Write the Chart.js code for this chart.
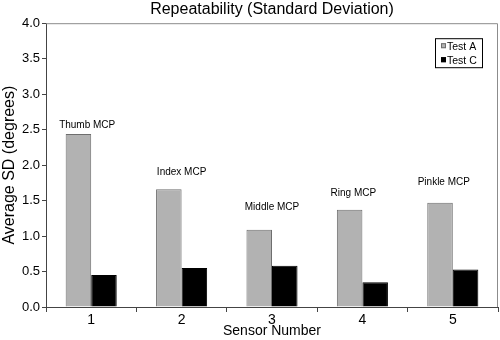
<!DOCTYPE html>
<html>
<head>
<meta charset="utf-8">
<script src="https://cdn.jsdelivr.net/npm/chart.js@4"></script>
<style>
  html, body { margin: 0; padding: 0; background: #fff; }
  #wrap { width: 500px; height: 340px; }
</style>
</head>
<body>
<div id="wrap"><canvas id="chart"></canvas></div>
<script>
const sensors = ['1', '2', '3', '4', '5'];
const jointNames = ['Thumb MCP', 'Index MCP', 'Middle MCP', 'Ring MCP', 'Pinkle MCP'];
const testA = [2.44, 1.66, 1.09, 1.37, 1.47];
const testC = [0.45, 0.55, 0.58, 0.35, 0.53];
const yTicks = [0, 0.5, 1, 1.5, 2, 2.5, 3, 3.5, 4];

const FONT = 'Liberation Sans, Arial, Helvetica, sans-serif';

// small hand nudges so the joint labels sit where the original put them (px)
const labelNudge = [[-4, 9], [0, 17], [0, 22], [-9, 17], [-9, 20]];

// joint names above the grey bars
const jointLabels = {
    id: 'jointLabels',
    afterDatasetsDraw(chart) {
        const ctx = chart.ctx;
        const x = chart.scales.x;
        const y = chart.scales.y;
        ctx.save();
        ctx.font = '10px ' + FONT;
        ctx.fillStyle = '#000';
        ctx.textAlign = 'center';
        ctx.textBaseline = 'middle';
        jointNames.forEach((name, i) => {
            const px = x.getPixelForValue(i) + labelNudge[i][0];
            const py = y.getPixelForValue(testA[i]) - labelNudge[i][1];
            ctx.fillText(name, px, py);
        });
        ctx.restore();
    }
};

// grey frame on top/right plus the boxed legend inside the plot
const frameAndLegend = {
    id: 'frameAndLegend',
    afterDraw(chart) {
        const ctx = chart.ctx;
        const a = chart.chartArea;
        ctx.save();
        ctx.strokeStyle = '#8c8c8c';
        ctx.lineWidth = 1;
        ctx.beginPath();
        ctx.moveTo(a.left, a.top + 0.5);
        ctx.lineTo(a.right - 0.5, a.top + 0.5);
        ctx.lineTo(a.right - 0.5, a.bottom);
        ctx.stroke();

        const bx = a.right - 63, by = a.top + 15, bw = 47, bh = 29;
        ctx.strokeStyle = '#000';
        ctx.strokeRect(bx + 0.5, by + 0.5, bw, bh);
        ctx.font = '10.5px ' + FONT;
        ctx.textBaseline = 'middle';
        ctx.textAlign = 'left';
        chart.data.datasets.forEach((ds, i) => {
            const cy = by + 8 + i * 14;
            ctx.fillStyle = ds.backgroundColor;
            ctx.fillRect(bx + 6, cy - 3, 5, 5);
            ctx.strokeStyle = ds.borderColor;
            ctx.strokeRect(bx + 6.5, cy - 2.5, 4, 4);
            ctx.fillStyle = '#000';
            ctx.fillText(ds.label, bx + 12, cy + 1);
        });
        ctx.restore();
    }
};

new Chart(document.getElementById('chart'), {
    type: 'bar',
    data: {
        labels: sensors,
        datasets: [
            {
                label: 'Test A',
                data: testA,
                backgroundColor: '#b2b2b2',
                borderColor: '#6e6e6e',
                borderWidth: 1,
                borderSkipped: 'bottom'
            },
            {
                label: 'Test C',
                data: testC,
                backgroundColor: '#000000',
                borderColor: '#000000',
                borderWidth: 1,
                borderSkipped: 'bottom'
            }
        ]
    },
    options: {
        responsive: true,
        maintainAspectRatio: false,
        animation: false,
        datasets: {
            bar: { barPercentage: 1, categoryPercentage: 0.565 }
        },
        layout: { padding: { top: 0, right: 2, bottom: 0, left: 0 } },
        plugins: {
            legend: { display: false },
            tooltip: { enabled: false },
            title: {
                display: true,
                text: 'Repeatability (Standard Deviation)',
                fullSize: false,
                color: '#000',
                font: { family: FONT, size: 16, weight: 'normal' },
                padding: { top: 0, bottom: 4 }
            }
        },
        scales: {
            x: {
                offset: true,
                grid: {
                    offset: true,
                    drawOnChartArea: false,
                    drawTicks: true,
                    tickLength: 5,
                    color: '#444'
                },
                border: { display: true, color: '#444' },
                ticks: {
                    color: '#000',
                    padding: 0,
                    font: { family: FONT, size: 14 }
                },
                title: {
                    display: true,
                    text: 'Sensor Number',
                    color: '#000',
                    padding: 0,
                    font: { family: FONT, size: 14 }
                },
                afterFit: (s) => { s.height = 33; }
            },
            y: {
                min: 0,
                max: 4,
                afterBuildTicks: (s) => { s.ticks = yTicks.map(v => ({ value: v })); },
                grid: {
                    drawOnChartArea: false,
                    drawTicks: true,
                    tickLength: 4,
                    color: '#444'
                },
                border: { display: true, color: '#444' },
                ticks: {
                    color: '#000',
                    padding: 2,
                    font: { family: FONT, size: 13 },
                    callback: (v) => Number(v).toFixed(1)
                },
                title: {
                    display: true,
                    text: 'Average SD (degrees)',
                    color: '#000',
                    padding: 0,
                    font: { family: FONT, size: 16 }
                },
                afterFit: (s) => { s.width = 46; }
            }
        }
    },
    plugins: [jointLabels, frameAndLegend]
});
</script>
</body>
</html>
